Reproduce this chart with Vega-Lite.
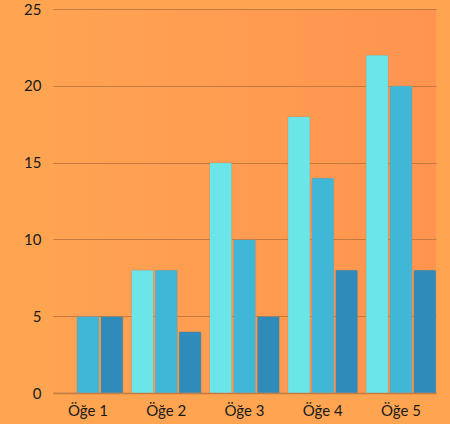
{
  "$schema": "https://vega.github.io/schema/vega-lite/v6.json",
  "width": 383,
  "height": 384,
  "autosize": "none",
  "padding": {"left": 53, "top": 9, "right": 14, "bottom": 31},
  "background": "#ffa552",
  "config": {
    "view": {
      "stroke": null,
      "fill": {"gradient": "linear", "x1": 0, "y1": 0, "x2": 1, "y2": 0, "stops": [{"offset": 0, "color": "#ffa352"}, {"offset": 1, "color": "#ff9450"}]}
    },
    "font": "Lato"
  },
  "data": {
    "values": [
      {"item": "Öğe 1", "s": "A", "v": 0},
      {"item": "Öğe 1", "s": "B", "v": 5},
      {"item": "Öğe 1", "s": "C", "v": 5},
      {"item": "Öğe 2", "s": "A", "v": 8},
      {"item": "Öğe 2", "s": "B", "v": 8},
      {"item": "Öğe 2", "s": "C", "v": 4},
      {"item": "Öğe 3", "s": "A", "v": 15},
      {"item": "Öğe 3", "s": "B", "v": 10},
      {"item": "Öğe 3", "s": "C", "v": 5},
      {"item": "Öğe 4", "s": "A", "v": 18},
      {"item": "Öğe 4", "s": "B", "v": 14},
      {"item": "Öğe 4", "s": "C", "v": 8},
      {"item": "Öğe 5", "s": "A", "v": 22},
      {"item": "Öğe 5", "s": "B", "v": 20},
      {"item": "Öğe 5", "s": "C", "v": 8}
    ]
  },
  "mark": {"type": "bar", "cornerRadiusEnd": 1.5, "stroke": "#c98a5a", "strokeWidth": 0.6, "strokeOpacity": 0.5},
  "encoding": {
    "x": {
      "field": "item", "type": "nominal", "title": null,
      "scale": {"paddingInner": 0.105, "paddingOuter": 0},
      "axis": {"labelAngle": 0, "ticks": false, "domain": true, "domainColor": "#c27a40", "domainWidth": 1.5, "labelPadding": 10, "labelFontSize": 15, "labelColor": "#1a1a1a", "grid": false}
    },
    "xOffset": {"field": "s", "type": "nominal", "scale": {"paddingInner": 0.06, "paddingOuter": 0}},
    "y": {
      "field": "v", "type": "quantitative", "title": null,
      "scale": {"domain": [0, 25]},
      "axis": {"values": [0, 5, 10, 15, 20, 25], "ticks": false, "domain": false, "gridColor": "#c27a40", "gridWidth": 1.2, "labelPadding": 12, "labelFontSize": 15, "labelColor": "#1a1a1a"}
    },
    "color": {
      "field": "s", "type": "nominal", "legend": null,
      "scale": {"domain": ["A", "B", "C"], "range": ["#6be5e8", "#41b7d7", "#2e8bba"]}
    }
  }
}
